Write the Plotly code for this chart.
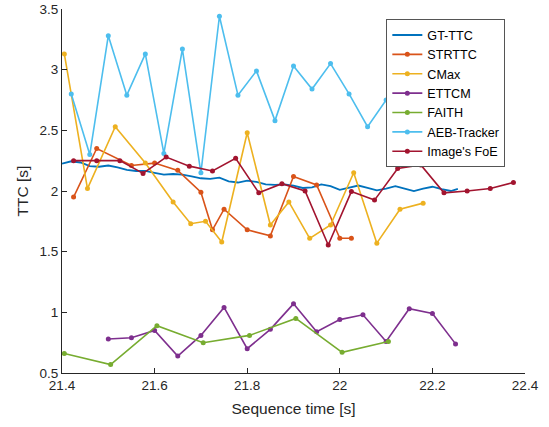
import plotly.graph_objects as go

# Ground-truth TTC, sampled every 20 ms
gt_t = [21.40, 21.42, 21.44, 21.46, 21.48, 21.50, 21.52, 21.54, 21.56, 21.58,
        21.60, 21.62, 21.64, 21.66, 21.68, 21.70, 21.72, 21.74, 21.76, 21.78,
        21.80, 21.82, 21.84, 21.86, 21.88, 21.90, 21.92, 21.94, 21.96, 21.98,
        22.00, 22.02, 22.04, 22.06, 22.08, 22.10, 22.12, 22.14, 22.16, 22.18,
        22.20, 22.22, 22.24, 22.255]
gt_ttc = [2.225, 2.245, 2.235, 2.205, 2.200, 2.210, 2.195, 2.175, 2.165, 2.165,
          2.150, 2.135, 2.140, 2.135, 2.120, 2.105, 2.100, 2.110, 2.080, 2.070,
          2.085, 2.075, 2.055, 2.050, 2.055, 2.045, 2.025, 2.030, 2.055, 2.040,
          2.010, 2.025, 2.045, 2.025, 2.005, 2.020, 2.040, 2.020, 2.000, 2.020,
          2.035, 2.015, 2.000, 2.018]

strttc_t = [21.425, 21.475, 21.55, 21.60, 21.65, 21.70, 21.725, 21.75, 21.80,
            21.85, 21.90, 21.95, 22.00, 22.025]
strttc_ttc = [1.95, 2.35, 2.21, 2.23, 2.17, 1.99, 1.68, 1.85, 1.68,
              1.63, 2.12, 2.05, 1.61, 1.61]

cmax_t = [21.405, 21.455, 21.515, 21.58, 21.64, 21.678, 21.71, 21.745, 21.80,
          21.85, 21.89, 21.935, 21.98, 22.03, 22.08, 22.13, 22.18]
cmax_ttc = [3.13, 2.02, 2.53, 2.23, 1.91, 1.73, 1.75, 1.58, 2.48,
            1.72, 1.91, 1.61, 1.72, 2.15, 1.57, 1.85, 1.90]

ettcm_t = [21.50, 21.55, 21.60, 21.65, 21.70, 21.75, 21.80, 21.85,
           21.90, 21.95, 22.00, 22.05, 22.10, 22.15, 22.20, 22.25]
ettcm_ttc = [0.78, 0.79, 0.85, 0.64, 0.81, 1.04, 0.70, 0.86,
             1.07, 0.84, 0.94, 0.98, 0.76, 1.03, 0.99, 0.74]

faith_t = [21.405, 21.505, 21.605, 21.705, 21.805, 21.905, 22.005, 22.105]
faith_ttc = [0.66, 0.57, 0.89, 0.75, 0.81, 0.95, 0.67, 0.76]

aeb_t = [21.42, 21.46, 21.50, 21.54, 21.58, 21.62, 21.66, 21.70, 21.74, 21.78,
         21.82, 21.86, 21.90, 21.94, 21.98, 22.02, 22.06, 22.10, 22.14, 22.18,
         22.22]
aeb_ttc = [2.80, 2.30, 3.28, 2.79, 3.13, 2.31, 3.17, 2.15, 3.44, 2.79,
           2.99, 2.58, 3.03, 2.84, 3.05, 2.80, 2.53, 2.75, 2.88, 2.22,
           2.62]

foe_t = [21.425, 21.475, 21.525, 21.575, 21.625, 21.675, 21.725, 21.775,
         21.825, 21.875, 21.925, 21.975, 22.025, 22.075, 22.125, 22.175,
         22.225, 22.275, 22.325, 22.375]
foe_ttc = [2.25, 2.25, 2.25, 2.145, 2.28, 2.205, 2.165, 2.27,
           1.985, 2.06, 2.00, 1.555, 1.995, 1.925, 2.185, 2.215,
           1.985, 2.00, 2.02, 2.07]

x_ticks = [21.4, 21.6, 21.8, 22.0, 22.2, 22.4]
x_labels = ["21.4", "21.6", "21.8", "22", "22.2", "22.4"]
y_ticks = [0.5, 1.0, 1.5, 2.0, 2.5, 3.0, 3.5]
y_labels = ["0.5", "1", "1.5", "2", "2.5", "3", "3.5"]

AXIS = "#262626"
FONT = "Liberation Sans, Arial, sans-serif"

fig = go.Figure()

fig.add_trace(go.Scatter(x=gt_t, y=gt_ttc, mode="lines", name="GT-TTC",
                         line=dict(color="#0072BD", width=1.8)))

series = [
    ("STRTTC", strttc_t, strttc_ttc, "#D95319"),
    ("CMax", cmax_t, cmax_ttc, "#EDB120"),
    ("ETTCM", ettcm_t, ettcm_ttc, "#7E2F8E"),
    ("FAITH", faith_t, faith_ttc, "#77AC30"),
    ("AEB-Tracker", aeb_t, aeb_ttc, "#4DBEEE"),
    ("Image's FoE", foe_t, foe_ttc, "#A2142F"),
]
for name, t, v, c in series:
    fig.add_trace(go.Scatter(x=t, y=v, mode="lines+markers", name=name,
                             line=dict(color=c, width=1.6),
                             marker=dict(color=c, size=5)))

fig.update_layout(
    width=549, height=427,
    margin=dict(l=62, r=24, t=9, b=54, autoexpand=False),
    paper_bgcolor="white", plot_bgcolor="white",
    font=dict(family=FONT, color=AXIS, size=13.5),
    showlegend=True,
    legend=dict(x=0.7005, y=0.9717, xanchor="left", yanchor="top",
                bgcolor="white", bordercolor="#555555", borderwidth=1,
                font=dict(family=FONT, size=12.6, color="#000000"),
                tracegroupgap=0),
    xaxis=dict(range=[21.4, 22.4], tickvals=x_ticks, ticktext=x_labels,
               automargin=False,
               showgrid=False, zeroline=False, showline=True,
               linecolor=AXIS, linewidth=1, ticks="inside", ticklen=5,
               tickcolor=AXIS, tickfont=dict(size=13.5, color=AXIS),
               title=dict(text="Sequence time [s]", font=dict(size=15.5, color=AXIS),
                          standoff=10)),
    yaxis=dict(range=[0.5, 3.5], tickvals=y_ticks, ticktext=y_labels,
               automargin=False,
               showgrid=False, zeroline=False, showline=True,
               linecolor=AXIS, linewidth=1, ticks="inside", ticklen=5,
               tickcolor=AXIS, tickfont=dict(size=13.5, color=AXIS),
               title=dict(text="TTC [s]", font=dict(size=15.5, color=AXIS),
                          standoff=7)),
)

fig.write_html("out.html")
